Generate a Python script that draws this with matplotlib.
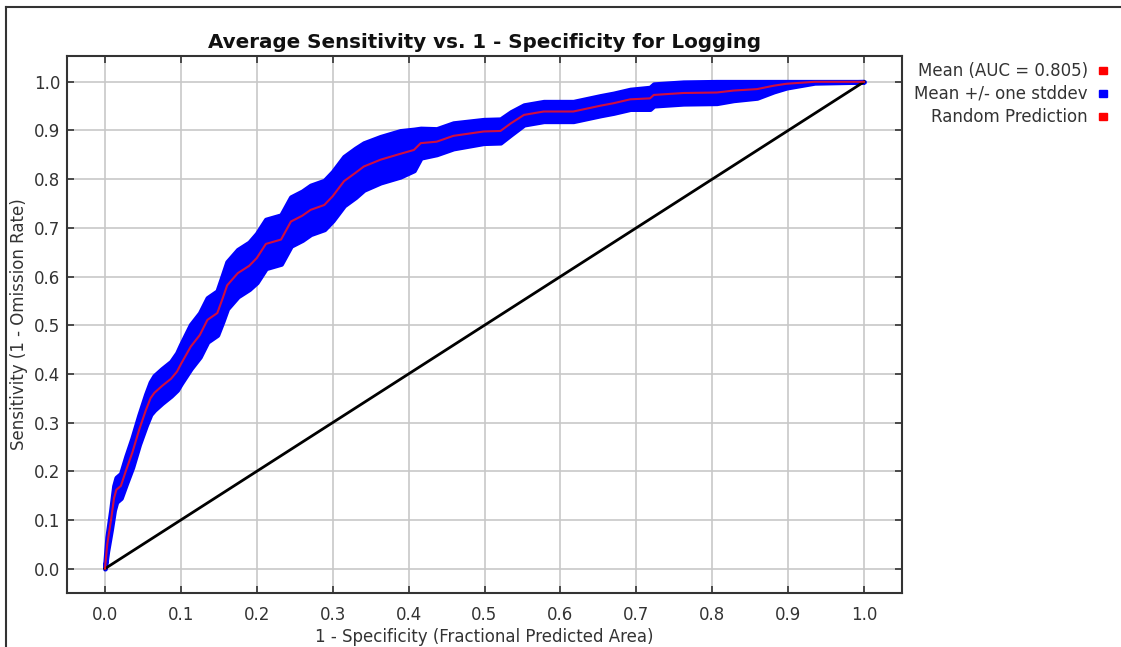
import matplotlib

matplotlib.use("Agg")
import matplotlib.pyplot as plt
import numpy as np
from matplotlib.lines import Line2D
from matplotlib.patches import Rectangle

plt.rcParams["font.family"] = ["DejaVu Sans"]

# mean ROC curve (1 - specificity, sensitivity)
fpr = [0.000, 0.003, 0.008, 0.012, 0.015, 0.021, 0.028, 0.036, 0.045, 0.054,
       0.060, 0.065, 0.075, 0.087, 0.095, 0.100, 0.113, 0.125, 0.135, 0.148,
       0.155, 0.161, 0.175, 0.190, 0.200, 0.212, 0.232, 0.245, 0.260, 0.271,
       0.289, 0.300, 0.315, 0.330, 0.341, 0.363, 0.389, 0.407, 0.416, 0.437,
       0.459, 0.499, 0.521, 0.535, 0.552, 0.578, 0.617, 0.653, 0.670, 0.692,
       0.718, 0.723, 0.762, 0.806, 0.828, 0.859, 0.881, 0.898, 0.935, 1.000]
sens = [0.000, 0.050, 0.100, 0.145, 0.162, 0.170, 0.203, 0.238, 0.285, 0.326,
        0.350, 0.361, 0.375, 0.390, 0.405, 0.420, 0.456, 0.480, 0.511, 0.525,
        0.555, 0.582, 0.607, 0.622, 0.638, 0.667, 0.676, 0.713, 0.725, 0.737,
        0.747, 0.765, 0.796, 0.813, 0.826, 0.840, 0.852, 0.860, 0.874, 0.877,
        0.889, 0.898, 0.899, 0.915, 0.932, 0.939, 0.939, 0.951, 0.956, 0.964,
        0.966, 0.973, 0.977, 0.978, 0.982, 0.985, 0.992, 0.996, 1.000, 1.000]
# one standard deviation around the mean at the same points
stddev = [0.005, 0.015, 0.020, 0.025, 0.025, 0.025, 0.028, 0.030, 0.030, 0.032,
          0.033, 0.035, 0.035, 0.035, 0.038, 0.040, 0.045, 0.045, 0.045, 0.045,
          0.047, 0.048, 0.048, 0.048, 0.050, 0.050, 0.050, 0.050, 0.050, 0.050,
          0.050, 0.050, 0.050, 0.050, 0.048, 0.047, 0.047, 0.042, 0.030, 0.026,
          0.026, 0.024, 0.024, 0.023, 0.020, 0.020, 0.020, 0.020, 0.020, 0.020,
          0.022, 0.022, 0.022, 0.022, 0.020, 0.018, 0.012, 0.008, 0.002, 0.000]

auc = 0.805
ticks = [0.0, 0.1, 0.2, 0.3, 0.4, 0.5, 0.6, 0.7, 0.8, 0.9, 1.0]
legend_labels = [f"Mean (AUC = {auc:.3f})", "Mean +/- one stddev", "Random Prediction"]
legend_colors = ["#ff0000", "#0000ff", "#ff0000"]

W, H = 1121, 647
fig = plt.figure(figsize=(W / 100, H / 100), dpi=100)
ax = fig.add_axes([67 / W, 1 - 593 / H, (902 - 67) / W, (593 - 56) / H])

x = np.array(fpr)
m = np.array(sens)
s = np.array(stddev)
upper = np.clip(m + s, 0, 1)
lower = np.clip(m - s, 0, 1)

ax.fill_between(x, lower, upper, color="#0000ff", lw=3.5, edgecolor="#0000ff", zorder=2)
ax.plot([0, 1], [0, 1], color="black", lw=2, zorder=3)
ax.plot(x, m, color="#e8102a", lw=1.5, alpha=0.9, zorder=4)

ax.set_xlim(-0.05, 1.05)
ax.set_ylim(-0.05, 1.053)
ax.set_xticks(ticks)
ax.set_yticks(ticks)
ax.set_xticklabels([f"{t:.1f}" for t in ticks])
ax.set_yticklabels([f"{t:.1f}" for t in ticks])
ax.grid(True, color="#c8c8c8", lw=1.2, zorder=0)
ax.set_axisbelow(True)
ax.tick_params(direction="in", length=5, width=1.2, color="#333333",
               labelsize=12, labelcolor="#333333", top=True, right=True)
ax.tick_params(axis="x", pad=9)
ax.tick_params(axis="y", pad=5)
for sp in ax.spines.values():
    sp.set_color("#333333")
    sp.set_linewidth(1.5)

ax.set_title("Average Sensitivity vs. 1 - Specificity for Logging",
             fontsize=14.3, fontweight="bold", color="#111111", pad=6)
ax.set_xlabel("1 - Specificity (Fractional Predicted Area)", fontsize=12,
              color="#333333", labelpad=3)
ax.set_ylabel("Sensitivity (1 - Omission Rate)", fontsize=12,
              color="#333333", labelpad=4)

# legend: right-aligned labels with small square swatches
for i, (lab, col) in enumerate(zip(legend_labels, legend_colors)):
    yy = 71 + i * 23
    fig.text(1088 / W, 1 - yy / H, lab, ha="right", va="center",
             fontsize=12, color="#333333")
    fig.add_artist(Rectangle((1099 / W, 1 - (yy + 3) / H), 8 / W, 7 / H,
                             transform=fig.transFigure, color=col))

# frame around the panel (top and left edges visible)
fig.add_artist(Line2D([6 / W, 1], [1 - 7 / H, 1 - 7 / H], transform=fig.transFigure,
                      color="#333333", lw=1.5))
fig.add_artist(Line2D([6 / W, 6 / W], [1 - 7 / H, 0], transform=fig.transFigure,
                      color="#333333", lw=1.5))

fig.savefig("out.png", dpi=100)
